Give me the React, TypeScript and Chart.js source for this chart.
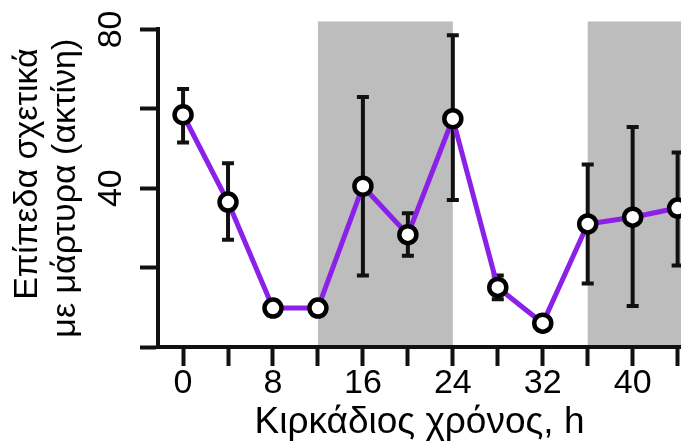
import { useEffect, useRef } from 'react';
import { Chart, registerables } from 'chart.js';

Chart.register(...registerables);

const hours = [0, 4, 8, 12, 16, 20, 24, 28, 32, 36, 40, 44];
const levels = [58.5, 36.5, 9.8, 9.8, 40.5, 28.3, 57.5, 15, 6, 31, 32.7, 35];
const errLow = [51.5, 27, 8.5, 8.5, 18, 23, 37, 12, 5, 16, 10.3, 20.5];
const errHigh = [65, 46.3, 11, 11, 63, 33.7, 78.5, 18, 7, 46, 55.4, 49];
const darkStart = [12, 36];
const darkEnd = [24, 50];
const xTickValues = [0, 4, 8, 12, 16, 20, 24, 28, 32, 36, 40, 44];
const xLabelled = [0, 8, 16, 24, 32, 40];
const yLabelled = [40, 80];
const xTitle = 'Κιρκάδιος χρόνος, h';
const yTitle = ['   Επίπεδα σχετικά', 'με μάρτυρα (ακτίνη)'];

const FONT = '"Liberation Sans", Arial, Helvetica, sans-serif';

const shadingPlugin = {
  id: 'shading',
  beforeDraw(chart: any) {
    const { ctx, scales } = chart;
    const x = scales.x;
    const y = scales.y;
    ctx.save();
    ctx.fillStyle = '#bdbdbd';
    for (let i = 0; i < darkStart.length; i++) {
      const x0 = x.getPixelForValue(darkStart[i]);
      const x1 = x.getPixelForValue(darkEnd[i]);
      const y0 = y.getPixelForValue(82);
      const y1 = y.getPixelForValue(0);
      ctx.fillRect(x0, y0, x1 - x0, y1 - y0);
    }
    ctx.restore();
  },
};

const errorBarPlugin = {
  id: 'errorBars',
  beforeDatasetsDraw(chart: any) {
    const { ctx, scales } = chart;
    const x = scales.x;
    const y = scales.y;
    ctx.save();
    ctx.strokeStyle = '#111';
    ctx.lineWidth = 4;
    const cap = 6;
    for (let i = 0; i < hours.length; i++) {
      const px = x.getPixelForValue(hours[i]);
      const yl = y.getPixelForValue(errLow[i]);
      const yh = y.getPixelForValue(errHigh[i]);
      ctx.beginPath();
      ctx.moveTo(px, yl);
      ctx.lineTo(px, yh);
      ctx.moveTo(px - cap, yl);
      ctx.lineTo(px + cap, yl);
      ctx.moveTo(px - cap, yh);
      ctx.lineTo(px + cap, yh);
      ctx.stroke();
    }
    ctx.restore();
  },
};

export default function App() {
  const ref = useRef<HTMLCanvasElement | null>(null);
  useEffect(() => {
    if (!ref.current) return;
    const chart = new Chart(ref.current, {
      type: 'line',
      data: {
        datasets: [
          {
            data: hours.map((h, i) => ({ x: h, y: levels[i] })),
            borderColor: '#8b20e8',
            borderWidth: 5,
            pointRadius: 8.5,
            pointBorderWidth: 4.5,
            pointBackgroundColor: '#ffffff',
            pointBorderColor: '#000000',
            tension: 0,
            clip: false,
          },
        ],
      },
      options: {
        animation: false,
        responsive: false,
        layout: { autoPadding: false, padding: { top: 29, left: 0, right: 0, bottom: 0 } },
        plugins: { legend: { display: false }, tooltip: { enabled: false } },
        scales: {
          x: {
            type: 'linear',
            min: -2.23,
            max: 44.3,
            afterBuildTicks(scale: any) {
              scale.ticks = xTickValues.map((v) => ({ value: v }));
            },
            afterFit(scale: any) {
              scale.height = 100;
            },
            border: { display: true, width: 4, color: '#111' },
            grid: {
              drawOnChartArea: false,
              drawTicks: true,
              tickLength: 19,
              tickWidth: 4,
              tickColor: '#111',
            },
            ticks: {
              autoSkip: false,
              maxRotation: 0,
              padding: 1,
              color: '#000',
              font: { family: FONT, size: 34, lineHeight: 1 },
              callback: (v: any) => (xLabelled.includes(Number(v)) ? String(v) : ''),
            },
            title: {
              display: true,
              text: xTitle,
              color: '#000',
              font: { family: FONT, size: 37, lineHeight: 1.2 },
              padding: { top: 0, bottom: 2 },
            },
          },
          y: {
            type: 'linear',
            min: 0,
            max: 80,
            afterFit(scale: any) {
              scale.width = 158;
            },
            border: { display: true, width: 4, color: '#111' },
            grid: {
              drawOnChartArea: false,
              drawTicks: true,
              tickLength: 18,
              tickWidth: 4,
              tickColor: '#111',
            },
            ticks: {
              stepSize: 20,
              minRotation: 90,
              maxRotation: 90,
              crossAlign: 'center',
              padding: 9,
              color: '#000',
              font: { family: FONT, size: 34 },
              callback: (v: any) => (yLabelled.includes(Number(v)) ? String(v) : ''),
            },
            title: {
              display: true,
              text: yTitle,
              color: '#000',
              font: { family: FONT, size: 34, lineHeight: 1.13 },
              padding: { top: 8, bottom: 0 },
            },
          },
        },
      },
      plugins: [shadingPlugin, errorBarPlugin],
    } as any);
    return () => chart.destroy();
  }, []);
  return (
    <div style={{ position: 'fixed', left: 0, top: 0, width: 681, height: 447, background: '#fff' }}>
      <canvas ref={ref} width={681} height={447} style={{ display: 'block' }} />
    </div>
  );
}
